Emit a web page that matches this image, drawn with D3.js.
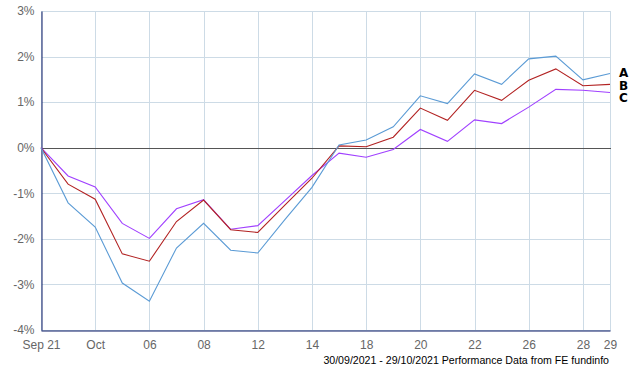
<!DOCTYPE html>
<html>
<head>
<meta charset="utf-8">
<script src="https://cdn.jsdelivr.net/npm/d3@7"></script>
<style>
  body { margin: 0; background: #fff; }
  svg { display: block; font-family: "DejaVu Sans", "Liberation Sans", sans-serif; }
</style>
</head>
<body>
<svg id="chart" width="640" height="370"></svg>
<script>
// tick labels on every second point
var tickLabels = ["Sep 21", "", "Oct", "", "06", "", "08", "", "12", "", "14", "", "18", "", "20", "", "22", "", "26", "", "28", "29"];
var yTicks = [3, 2, 1, 0, -1, -2, -3, -4];

// performance, %
var seriesA = [0, -1.21, -1.74, -2.97, -3.37, -2.20, -1.66, -2.25, -2.31, -1.58, -0.87, 0.06, 0.17, 0.46, 1.14, 0.97, 1.62, 1.39, 1.95, 2.01, 1.49, 1.63];
var seriesB = [0, -0.80, -1.13, -2.33, -2.49, -1.62, -1.15, -1.80, -1.86, -1.26, -0.67, 0.04, 0.02, 0.23, 0.87, 0.60, 1.26, 1.04, 1.48, 1.73, 1.36, 1.39];
var seriesC = [0, -0.62, -0.86, -1.66, -1.99, -1.34, -1.14, -1.79, -1.71, -1.16, -0.61, -0.12, -0.21, -0.04, 0.40, 0.14, 0.61, 0.53, 0.89, 1.28, 1.26, 1.21];
var seriesNames = ["A", "B", "C"];
var seriesColors = ["#5b9bd5", "#b22222", "#a040ff"];

var svg = d3.select("#chart");
var plotL = 41, plotR = 610, plotT = 11, plotB = 330;

var x = d3.scaleLinear().domain([0, tickLabels.length - 1]).range([plotL, plotR]);
var y = d3.scaleLinear().domain([-4, 3]).range([plotB, plotT]);

var labelIdx = tickLabels.map(function(d, i){ return i; }).filter(function(i){ return tickLabels[i] !== ""; });

// grid
svg.append("g").selectAll("line")
  .data(labelIdx)
  .enter().append("line")
  .attr("x1", function(d){ return Math.round(x(d)) + 0.5; })
  .attr("x2", function(d){ return Math.round(x(d)) + 0.5; })
  .attr("y1", plotT).attr("y2", plotB)
  .attr("stroke", "#cddbe6").attr("stroke-width", 1);

svg.append("g").selectAll("line")
  .data(yTicks)
  .enter().append("line")
  .attr("x1", plotL).attr("x2", plotR + 1)
  .attr("y1", function(d){ return Math.round(y(d)) + 0.5; })
  .attr("y2", function(d){ return Math.round(y(d)) + 0.5; })
  .attr("stroke", function(d){ return d === 0 ? "#555" : "#cddbe6"; })
  .attr("stroke-width", 1);

// axes
var yAxis = d3.axisLeft(y).tickValues(yTicks).tickSize(0).tickPadding(7)
  .tickFormat(function(d){ return d + "%"; });
var gy = svg.append("g").attr("transform", "translate(" + (plotL + 0.5) + ",0)").call(yAxis);
gy.select(".domain").attr("stroke", "#0a1a66");
gy.selectAll("text").attr("fill", "#666").attr("font-size", 12);

var xAxis = d3.axisBottom(x)
  .tickValues(labelIdx)
  .tickSize(0).tickPadding(10)
  .tickFormat(function(i){ return tickLabels[i]; });
var gx = svg.append("g").attr("transform", "translate(0," + (plotB + 0.5) + ")").call(xAxis);
gx.select(".domain").attr("stroke", "#0a1a66");
gx.selectAll("text").attr("fill", "#666").attr("font-size", 12);

// lines
var line = d3.line()
  .x(function(d, i){ return x(i); })
  .y(function(d){ return y(d); });

var allSeries = [seriesA, seriesB, seriesC];
svg.append("g").selectAll("path")
  .data(allSeries.slice().reverse())
  .enter().append("path")
  .attr("d", line)
  .attr("fill", "none")
  .attr("stroke", function(d, i){ return seriesColors[2 - i]; })
  .attr("stroke-width", 1.1);

// legend labels
svg.append("g").selectAll("text")
  .data(seriesNames)
  .enter().append("text")
  .attr("x", 619)
  .attr("y", function(d, i){ return 77 + i * 12.5; })
  .attr("font-size", 12)
  .attr("font-weight", "bold")
  .attr("fill", "#000")
  .text(function(d){ return d; });

// footer
svg.append("text")
  .attr("x", 609).attr("y", 364)
  .attr("text-anchor", "end")
  .attr("font-size", 10.6)
  .attr("font-family", "Liberation Sans, Arial, sans-serif")
  .attr("fill", "#000")
  .text("30/09/2021 - 29/10/2021 Performance Data from FE fundinfo");
</script>
</body>
</html>
